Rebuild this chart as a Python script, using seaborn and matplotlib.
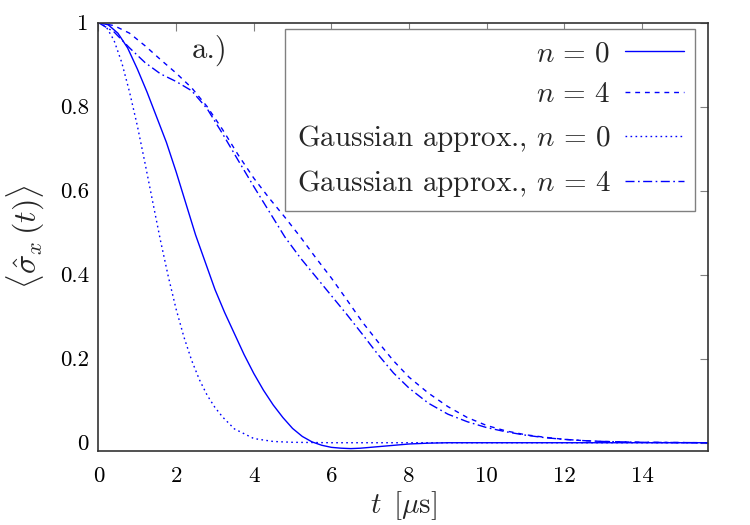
import numpy as np
import pandas as pd
import seaborn as sns
import matplotlib
matplotlib.use('Agg')
import matplotlib.pyplot as plt

# Values
t_n0 = [0, 0.25, 0.5, 0.75, 1.0, 1.25, 1.5, 1.75, 2.0, 2.25, 2.5, 2.75, 3.0, 3.25, 3.5, 3.75,
        4.0, 4.25, 4.5, 4.75, 5.0, 5.25, 5.5, 5.75, 6.0, 6.25, 6.5, 6.75, 7.0, 7.5, 8.0, 8.5,
        9.0, 10.0, 12.0, 14.0, 15.7]
s_n0 = [1.0, 0.995, 0.975, 0.94, 0.89, 0.835, 0.775, 0.715, 0.645, 0.57, 0.495, 0.43, 0.365,
        0.31, 0.26, 0.21, 0.165, 0.125, 0.09, 0.06, 0.034, 0.015, 0.002, -0.006, -0.011,
        -0.013, -0.014, -0.013, -0.011, -0.007, -0.003, -0.001, 0.0, 0.0, 0.0, 0.0, 0.0]

t_n4 = [0, 0.4, 0.8, 1.2, 1.6, 2.0, 2.4, 2.8, 3.2, 3.6, 4.0, 4.4, 4.8, 5.2, 5.6, 6.0, 6.4,
        6.8, 7.2, 7.6, 8.0, 8.5, 9.0, 9.5, 10.0, 10.5, 11.0, 11.5, 12.0, 12.5, 13.0, 14.0, 15.7]
s_n4 = [1.0, 0.993, 0.975, 0.945, 0.912, 0.88, 0.845, 0.80, 0.745, 0.685, 0.63, 0.582, 0.537,
        0.49, 0.44, 0.392, 0.34, 0.287, 0.24, 0.195, 0.156, 0.118, 0.086, 0.06, 0.041, 0.028,
        0.019, 0.013, 0.008, 0.005, 0.003, 0.001, 0.0]

t_g0 = [0, 0.2, 0.4, 0.6, 0.8, 1.0, 1.2, 1.4, 1.6, 1.8, 2.0, 2.2, 2.4, 2.6, 2.8, 3.0, 3.2,
        3.5, 4.0, 4.5, 5.0, 6.0, 8.0, 10.0, 12.0, 14.0, 15.7]
s_g0 = [1.0, 0.99, 0.958, 0.905, 0.835, 0.755, 0.665, 0.572, 0.48, 0.395, 0.318, 0.252, 0.196,
        0.15, 0.113, 0.084, 0.061, 0.033, 0.01, 0.003, 0.001, 0.0, 0.0, 0.0, 0.0, 0.0, 0.0]

t_g4 = [0, 0.4, 0.8, 1.2, 1.6, 2.0, 2.4, 2.8, 3.2, 3.6, 4.0, 4.4, 4.8, 5.2, 5.6, 6.0, 6.4,
        6.8, 7.2, 7.6, 8.0, 8.5, 9.0, 9.5, 10.0, 10.5, 11.0, 11.5, 12.0, 12.5, 13.0, 14.0, 15.7]
s_g4 = [1.0, 0.978, 0.94, 0.905, 0.878, 0.86, 0.838, 0.795, 0.735, 0.672, 0.61, 0.55, 0.49,
        0.44, 0.395, 0.35, 0.305, 0.258, 0.21, 0.166, 0.13, 0.094, 0.068, 0.05, 0.036, 0.026,
        0.018, 0.012, 0.008, 0.005, 0.003, 0.001, 0.0]

labels = [r'$n\,=\,0$', r'$n\,=\,4$', r'Gaussian approx., $n\,=\,0$', r'Gaussian approx., $n\,=\,4$']
styles = ['-', (0, (3.5, 3.5)), (0, (1.2, 2.4)), (0, (6.5, 2.5, 1.2, 2.5))]

xticks = [0, 2, 4, 6, 8, 10, 12, 14]
yticks = [0, 0.2, 0.4, 0.6, 0.8, 1]
ytick_labels = ['0', '0.2', '0.4', '0.6', '0.8', '1']

sns.set_theme(style='white')
plt.rcParams['font.family'] = ['cmr10']
plt.rcParams['mathtext.fontset'] = 'cm'
plt.rcParams['axes.formatter.use_mathtext'] = True

fig = plt.figure(figsize=(7.5, 5.25), dpi=100)
ax = fig.add_axes([0.1313, 0.1415, 0.8127, 0.8153])

series = [(t_n0, s_n0), (t_n4, s_n4), (t_g0, s_g0), (t_g4, s_g4)]
for (tt, ss), lab, ls in zip(series, labels, styles):
    sns.lineplot(x=tt, y=ss, ax=ax, color='#0000ff', lw=1.0, linestyle=ls, label=lab)

ax.set_xlim(0, 15.7)
ax.set_ylim(-0.019, 1)
ax.set_xticks(xticks)
ax.set_xticklabels([str(v) for v in xticks])
ax.set_yticks(yticks)
ax.set_yticklabels(ytick_labels)
ax.tick_params(direction='in', length=6, width=0.8, color='#808080', labelsize=16.5,
               top=True, right=True, labelcolor='black')
ax.tick_params(axis='y', pad=7)
ax.tick_params(axis='x', pad=11)
for sp in ax.spines.values():
    sp.set_color('#333333')
    sp.set_linewidth(1.2)

ax.set_xlabel(r'$t\ \,[\mu\mathrm{s}]$', fontsize=21, labelpad=3)
ax.set_ylabel(r'$\langle\hat{\sigma}_x\,(t)\rangle$', fontsize=23, labelpad=9)

ax.text(2.87, 0.935, 'a.)', fontsize=22, ha='center', va='center')

leg = ax.legend(loc='upper right', bbox_to_anchor=(0.979, 0.985), borderaxespad=0,
                markerfirst=False, fontsize=21, handlelength=2.0, handletextpad=0.5,
                labelspacing=0.5, fancybox=False, framealpha=1, edgecolor='#808080',
                borderpad=0.4)
leg.get_frame().set_linewidth(1.0)

fig.savefig('out.png', dpi=100)
